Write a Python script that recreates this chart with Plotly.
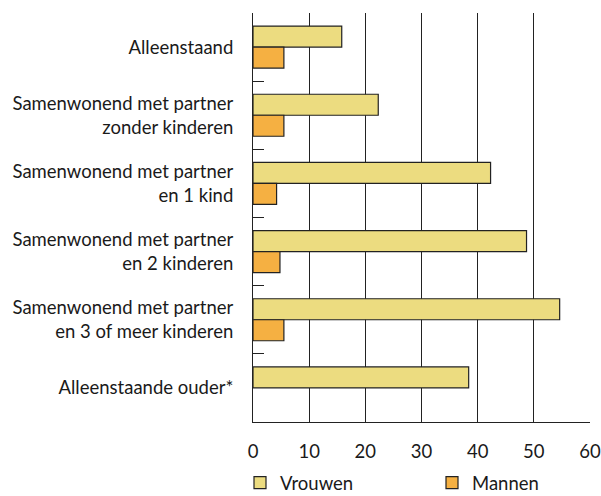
import plotly.graph_objects as go

categories = [
    "Alleenstaand",
    "Samenwonend met partner<br>zonder kinderen",
    "Samenwonend met partner<br>en 1 kind",
    "Samenwonend met partner<br>en 2 kinderen",
    "Samenwonend met partner<br>en 3 of meer kinderen",
    "Alleenstaande ouder*",
]
vrouwen = [15.8, 22.3, 42.3, 48.7, 54.6, 38.4]
mannen = [5.5, 5.5, 4.2, 4.8, 5.5, None]
x_ticks = [0, 10, 20, 30, 40, 50, 60]

FONT = "Lato"
TXT = "#1a1a1a"
W, H = 601, 496

fig = go.Figure()
fig.add_trace(go.Bar(
    y=categories, x=vrouwen, orientation="h", name="Vrouwen",
    marker=dict(color="#ECDC80", line=dict(color="#222222", width=1.2)),
    legend="legend",
))
fig.add_trace(go.Bar(
    y=categories, x=mannen, orientation="h", name="Mannen",
    marker=dict(color="#F5B042", line=dict(color="#222222", width=1.2)),
    legend="legend2",
))

leg_common = dict(
    orientation="h", xref="container", yref="container",
    xanchor="left", yanchor="middle", y=(H - 483) / H,
    font=dict(family=FONT, size=18.5, color=TXT),
    bgcolor="rgba(0,0,0,0)",
)

fig.update_layout(
    width=W, height=H,
    margin=dict(l=253, r=11, t=13, b=74, autoexpand=False),
    paper_bgcolor="white", plot_bgcolor="white",
    barmode="group", bargap=0.384, bargroupgap=0,
    font=dict(family=FONT, size=18.5, color=TXT),
    showlegend=True,
    legend=dict(x=240 / W, **leg_common),
    legend2=dict(x=432 / W, **leg_common),
    xaxis=dict(
        range=[0, 60], tickvals=x_ticks, ticktext=[str(v) for v in x_ticks],
        showgrid=True, gridcolor="#222222", gridwidth=1,
        showline=True, linecolor="#222222", linewidth=1,
        ticks="", zeroline=False, ticklabelstandoff=13,
        fixedrange=True, automargin=False,
    ),
    yaxis=dict(
        categoryorder="array", categoryarray=categories,
        autorange="reversed",
        showline=True, linecolor="#222222", linewidth=1,
        ticks="inside", tickson="boundaries", ticklen=11,
        tickcolor="#222222", tickwidth=1,
        showgrid=False, ticklabelstandoff=15,
        fixedrange=True, automargin=False,
    ),
)

fig.write_html(
    "out.html",
    config={"displayModeBar": False},
    post_script="document.body.style.margin='0';document.body.style.overflow='hidden';",
)
